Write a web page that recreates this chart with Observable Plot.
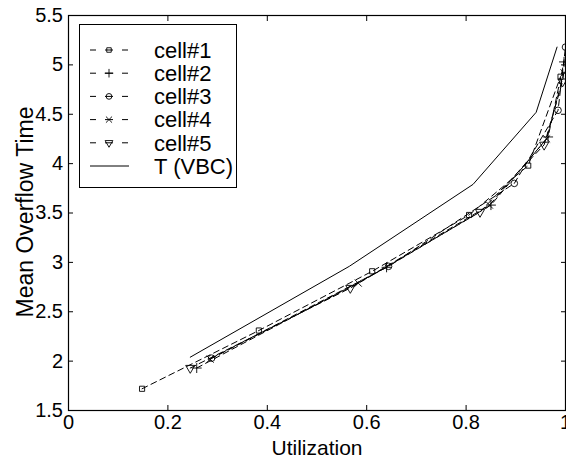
<!DOCTYPE html>
<html><head><meta charset="utf-8">
<script src="https://cdn.jsdelivr.net/npm/d3@7"></script>
<script src="https://cdn.jsdelivr.net/npm/@observablehq/plot@0.6"></script>
<style>
html,body{margin:0;padding:0;background:#fff;}
#chart svg{font-family:"Liberation Sans",Arial,Helvetica,sans-serif;display:block;}
</style>
</head><body><div id="chart"></div>
<script>
// ---- data ----
const seriesNames = ["cell#1", "cell#2", "cell#3", "cell#4", "cell#5", "T (VBC)"];
const cell1U = [0.148, 0.383, 0.611, 0.806, 0.925, 0.990];
const cell1T = [1.72, 2.31, 2.91, 3.48, 3.98, 4.88];
const cell2U = [0.258, 0.640, 0.850, 0.965, 0.997];
const cell2T = [1.93, 2.95, 3.58, 4.27, 5.03];
const cell3U = [0.288, 0.644, 0.897, 0.985, 1.000];
const cell3T = [2.03, 2.96, 3.80, 4.54, 5.18];
const cell4U = [0.285, 0.583, 0.847, 0.962, 0.997];
const cell4T = [2.02, 2.79, 3.58, 4.25, 4.92];
const cell5U = [0.245, 0.567, 0.828, 0.957, 0.994];
const cell5T = [1.93, 2.74, 3.51, 4.19, 4.83];
const vbcU = [0.245, 0.565, 0.814, 0.941, 0.983];
const vbcT = [2.04, 2.96, 3.79, 4.52, 5.18];

const xTicks = [0, 0.2, 0.4, 0.6, 0.8, 1];
const xTickLabels = ["0", "0.2", "0.4", "0.6", "0.8", "1"];
const yTicks = [1.5, 2, 2.5, 3, 3.5, 4, 4.5, 5, 5.5];
const yTickLabels = ["1.5", "2", "2.5", "3", "3.5", "4", "4.5", "5", "5.5"];
const xLabel = "Utilization";
const yLabel = "Mean Overflow Time";

// ---- build table ----
const seriesU = [cell1U, cell2U, cell3U, cell4U, cell5U, vbcU];
const seriesT = [cell1T, cell2T, cell3T, cell4T, cell5T, vbcT];
const rows = [];
seriesNames.forEach((name, s) => {
  seriesU[s].forEach((u, i) => rows.push({series: name, u, t: seriesT[s][i]}));
});
const cellRows = rows.filter(d => d.series !== "T (VBC)");
const vbcRows = rows.filter(d => d.series === "T (VBC)");
const symbolOf = {"cell#1": "square", "cell#2": "plus", "cell#3": "circle", "cell#4": "times", "cell#5": "triangle"};

const dotMarks = ["cell#1", "cell#2", "cell#3", "cell#4", "cell#5"].map(name =>
  Plot.dot(cellRows.filter(d => d.series === name), {
    x: "u", y: "t", symbol: () => symbolOf[name],
    r: name === "cell#1" ? 2.9 : name === "cell#5" ? 3.4 : 3.3,
    rotate: name === "cell#5" ? 180 : 0,
    fill: "none", stroke: "black", strokeWidth: 0.9
  })
);

const chart = Plot.plot({
  width: 566, height: 458,
  marginLeft: 68, marginRight: 1, marginTop: 15, marginBottom: 48,
  style: {background: "white", color: "black", fontSize: "20px", fontFamily: "Liberation Sans, Arial, sans-serif", overflow: "hidden"},
  x: {domain: [0, 1]},
  y: {domain: [1.5, 5.5]},
  marks: [
    Plot.line(cellRows, {x: "u", y: "t", z: "series", stroke: "black", strokeWidth: 1, strokeDasharray: "6,4"}),
    Plot.line(vbcRows, {x: "u", y: "t", stroke: "black", strokeWidth: 1}),
    ...dotMarks,
    Plot.frame({stroke: "black", strokeWidth: 1.2}),
    Plot.axisX({anchor: "top", ticks: xTicks, tickSize: -5, tickFormat: () => "", label: null}),
    Plot.axisY({anchor: "right", ticks: yTicks, tickSize: -5, tickFormat: () => "", label: null}),
    Plot.axisX({anchor: "bottom", ticks: xTicks, tickSize: -5, tickPadding: 9,
      tickFormat: d => xTickLabels[xTicks.indexOf(d)], fontSize: 20, label: null}),
    Plot.axisY({anchor: "left", ticks: yTicks, tickSize: -5, tickPadding: 10.5,
      tickFormat: d => yTickLabels[yTicks.indexOf(d)], fontSize: 20, label: null})
  ]
});
document.getElementById("chart").appendChild(chart);

const svg = d3.select(chart);
// ---- axis titles ----
svg.append("text").attr("x", 317).attr("y", 455).attr("text-anchor", "middle")
  .attr("font-size", 21).attr("fill", "black").text(xLabel);
svg.append("text").attr("transform", "translate(33,212) rotate(-90)").attr("text-anchor", "middle")
  .attr("font-size", 23).attr("fill", "black").text(yLabel);

// ---- legend (inside plot, upper left) ----
const lg = svg.append("g").attr("class", "legend");
lg.append("rect").attr("x", 79.5).attr("y", 24.5).attr("width", 157).attr("height", 163)
  .attr("fill", "white").attr("stroke", "black").attr("stroke-width", 1);
const legSym = {"cell#1": d3.symbolSquare, "cell#2": d3.symbolPlus, "cell#3": d3.symbolCircle, "cell#4": d3.symbolTimes, "cell#5": d3.symbolTriangle};
seriesNames.forEach((name, i) => {
  const y = 50 + i * 23.2;
  if (name === "T (VBC)") {
    lg.append("line").attr("x1", 90).attr("x2", 129).attr("y1", y).attr("y2", y)
      .attr("stroke", "black").attr("stroke-width", 1);
  } else {
    lg.append("line").attr("x1", 90).attr("x2", 128).attr("y1", y).attr("y2", y)
      .attr("stroke", "black").attr("stroke-width", 1).attr("stroke-dasharray", "6,9,8,9,6");
    const size = name === "cell#1" ? 20 : 26;
    lg.append("path").attr("d", d3.symbol(legSym[name], size)())
      .attr("transform", `translate(109,${y})` + (name === "cell#5" ? " rotate(180)" : ""))
      .attr("fill", "none").attr("stroke", "black").attr("stroke-width", 0.9);
  }
  lg.append("text").attr("x", 154).attr("y", y).attr("dy", "0.35em").attr("text-anchor", "start")
    .attr("font-size", 22).attr("fill", "black").text(name);
});
</script>
</body></html>
